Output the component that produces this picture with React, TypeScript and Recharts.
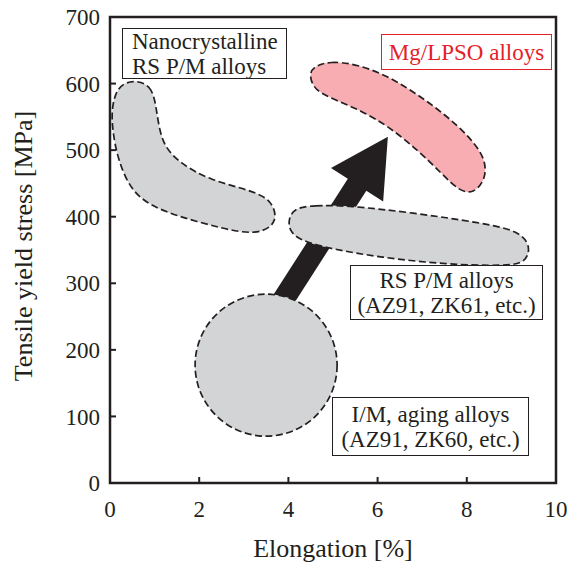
import { ScatterChart, Scatter, XAxis, YAxis, ReferenceArea, Curve } from "recharts";

// outlines, in data units (elongation %, stress MPa)
const nanoBlob = [
  { x: 0.52, y: 606 }, { x: 0.92, y: 598 }, { x: 1.04, y: 566 }, { x: 1.14, y: 510 },
  { x: 1.57, y: 480 }, { x: 2.24, y: 455 }, { x: 3.14, y: 440 }, { x: 3.64, y: 425 },
  { x: 3.76, y: 393 }, { x: 3.44, y: 377 }, { x: 2.98, y: 375 }, { x: 2.02, y: 391 },
  { x: 1.04, y: 411 }, { x: 0.48, y: 437 }, { x: 0.18, y: 485 }, { x: 0.06, y: 527 },
  { x: 0.03, y: 562 }, { x: 0.16, y: 596 },
];

const lpsoBlob = [
  { x: 4.53, y: 625 }, { x: 4.93, y: 634 }, { x: 5.55, y: 629 }, { x: 6.24, y: 611 },
  { x: 6.84, y: 586 }, { x: 7.47, y: 556 }, { x: 8.08, y: 519 }, { x: 8.42, y: 487 },
  { x: 8.43, y: 457 }, { x: 8.15, y: 434 }, { x: 7.82, y: 439 }, { x: 7.42, y: 466 },
  { x: 6.9, y: 500 }, { x: 6.24, y: 536 }, { x: 5.64, y: 559 }, { x: 5.07, y: 575 },
  { x: 4.6, y: 589 }, { x: 4.47, y: 610 },
];

const rspmBlob = [
  { x: 4.15, y: 413 }, { x: 4.55, y: 417 }, { x: 5.31, y: 417 }, { x: 6.79, y: 406 },
  { x: 8.3, y: 391 }, { x: 9.18, y: 379 }, { x: 9.44, y: 355 }, { x: 9.32, y: 331 },
  { x: 8.9, y: 326 }, { x: 7.56, y: 328 }, { x: 6.05, y: 339 }, { x: 4.93, y: 352 },
  { x: 4.28, y: 364 }, { x: 4.02, y: 378 }, { x: 4.0, y: 398 },
];

const imCentre = [{ x: 3.5, y: 177 }];
const arrowPts = [{ x: 3.72, y: 258 }, { x: 6.23, y: 520 }];

const xTicks = [0, 2, 4, 6, 8, 10];
const yTicks = [0, 100, 200, 300, 400, 500, 600, 700];

const ink = "#231f20";
const serif = "'Liberation Serif', 'Times New Roman', serif";

const blobLine = (fill: string) => (p: any) => (
  <Curve
    points={p.points}
    type="basisClosed"
    fill={fill}
    stroke={ink}
    strokeWidth={1.7}
    strokeDasharray="7 3.5"
  />
);

const arrowLine = (p: any) => {
  const [a, b] = p.points;
  const dx = b.x - a.x;
  const dy = b.y - a.y;
  const len = Math.hypot(dx, dy);
  const ux = dx / len, uy = dy / len;
  const nx = -uy, ny = ux;
  const headLen = 57, headHalf = 31, shaftHalf = 11;
  const bx = b.x - ux * headLen, by = b.y - uy * headLen;
  const pts = [
    [a.x + nx * shaftHalf, a.y + ny * shaftHalf],
    [bx + nx * shaftHalf, by + ny * shaftHalf],
    [bx + nx * headHalf, by + ny * headHalf],
    [b.x, b.y],
    [bx - nx * headHalf, by - ny * headHalf],
    [bx - nx * shaftHalf, by - ny * shaftHalf],
    [a.x - nx * shaftHalf, a.y - ny * shaftHalf],
  ];
  return <polygon points={pts.map((q) => q.join(",")).join(" ")} fill={ink} />;
};

const noDot = () => <g />;

const boxStyle = (left: number, top: number, width: number, height: number, color = ink, align = "center") => ({
  position: "absolute" as const,
  left,
  top,
  width,
  height,
  boxSizing: "border-box" as const,
  border: `1.5px solid ${color}`,
  color,
  fontFamily: serif,
  fontSize: 23,
  lineHeight: "25px",
  display: "flex",
  flexDirection: "column" as const,
  justifyContent: "center",
  alignItems: align === "center" ? "center" : "flex-start",
  paddingLeft: align === "center" ? 0 : 9,
  background: "#fff",
  whiteSpace: "nowrap" as const,
});

export default function App() {
  const tickStyle = { fontFamily: serif, fontSize: 23, fill: ink };
  return (
    <div style={{ position: "absolute", left: 0, top: 0, width: 570, height: 563, background: "#fff" }}>
      <ScatterChart width={570} height={563} margin={{ top: 17, right: 14, bottom: 0, left: 0 }}>
        <XAxis
          type="number"
          dataKey="x"
          domain={[0, 10]}
          ticks={xTicks}
          height={80}
          axisLine={false}
          tickSize={-6}
          tickMargin={24}
          tickLine={{ stroke: ink, strokeWidth: 2 }}
          tick={tickStyle}
          allowDataOverflow
        />
        <YAxis
          type="number"
          dataKey="y"
          domain={[0, 700]}
          ticks={yTicks}
          width={110}
          axisLine={false}
          tickSize={-6}
          tickMargin={16}
          tickLine={{ stroke: ink, strokeWidth: 2 }}
          tick={tickStyle}
          allowDataOverflow
        />
        <Scatter data={arrowPts} line={arrowLine} lineType="joint" shape={noDot} isAnimationActive={false} />
        <Scatter data={nanoBlob} line={blobLine("#d3d4d6")} lineType="joint" shape={noDot} isAnimationActive={false} />
        <Scatter data={rspmBlob} line={blobLine("#d3d4d6")} lineType="joint" shape={noDot} isAnimationActive={false} />
        <Scatter data={lpsoBlob} line={blobLine("#f7adb2")} lineType="joint" shape={noDot} isAnimationActive={false} />
        <Scatter
          data={imCentre}
          isAnimationActive={false}
          shape={(p: any) => (
            <circle cx={p.cx} cy={p.cy} r={71} fill="#d3d4d6" stroke={ink} strokeWidth={1.7} strokeDasharray="7 3.5" />
          )}
        />
        <ReferenceArea x1={0} x2={10} y1={0} y2={700} fill="none" stroke={ink} strokeWidth={2.5} />
      </ScatterChart>

      <div style={boxStyle(122, 28, 165, 51, ink, "left")}>
        <span>Nanocrystalline</span>
        <span>RS P/M alloys</span>
      </div>
      <div style={boxStyle(381, 34, 171, 36, "#e42128")}>
        <span>Mg/LPSO alloys</span>
      </div>
      <div style={boxStyle(350, 265, 193, 55)}>
        <span>RS P/M alloys</span>
        <span>(AZ91, ZK61, etc.)</span>
      </div>
      <div style={boxStyle(332, 397, 197, 59)}>
        <span>I/M, aging alloys</span>
        <span>(AZ91, ZK60, etc.)</span>
      </div>

      <div
        style={{
          position: "absolute",
          left: 333,
          top: 549,
          transform: "translate(-50%, -50%)",
          fontFamily: serif,
          fontSize: 26,
          color: ink,
          whiteSpace: "nowrap",
        }}
      >
        Elongation [%]
      </div>
      <div
        style={{
          position: "absolute",
          left: 24,
          top: 246,
          transform: "translate(-50%, -50%) rotate(-90deg)",
          fontFamily: serif,
          fontSize: 26,
          color: ink,
          whiteSpace: "nowrap",
        }}
      >
        Tensile yield stress [MPa]
      </div>
    </div>
  );
}
